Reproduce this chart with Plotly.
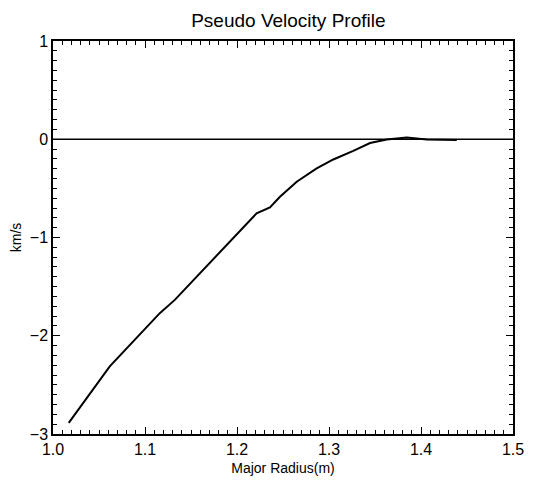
import plotly.graph_objects as go

radius = [1.0171, 1.0617, 1.1161, 1.1324, 1.2213, 1.2358, 1.2467, 1.2649, 1.2866,
          1.3047, 1.3264, 1.3446, 1.3628, 1.3845, 1.4063, 1.4389]
velocity = [-2.886, -2.312, -1.770, -1.635, -0.754, -0.693, -0.586, -0.433, -0.297,
            -0.206, -0.119, -0.038, -0.003, 0.017, -0.003, -0.007]
zero_x = [1.0, 1.5]
zero_y = [0, 0]

FONT = "Liberation Sans, Arial"

fig = go.Figure()
fig.add_trace(go.Scatter(x=zero_x, y=zero_y, mode="lines",
                         line=dict(color="black", width=1.5), showlegend=False))
fig.add_trace(go.Scatter(x=radius, y=velocity, mode="lines",
                         line=dict(color="black", width=2), showlegend=False))

axis_common = dict(showline=True, linecolor="black", linewidth=1.5, mirror="ticks",
                   ticks="inside", ticklen=7, tickwidth=1, tickcolor="black",
                   showgrid=False, zeroline=False, automargin=False,
                   tickfont=dict(family=FONT, size=16, color="black"))

fig.update_xaxes(range=[1.0, 1.5], dtick=0.1, tick0=1.0, tickformat=".1f",
                 minor=dict(ticks="inside", dtick=0.01, ticklen=4, tickcolor="black"),
                 title=dict(text="Major Radius(m)", font=dict(family=FONT, size=14, color="black"),
                            standoff=6),
                 **axis_common)
fig.update_yaxes(range=[-3, 1], dtick=1, tick0=0,
                 minor=dict(ticks="inside", dtick=0.1, ticklen=4, tickcolor="black"),
                 title=dict(text="km/s", font=dict(family=FONT, size=14, color="black"),
                            standoff=6),
                 **axis_common)

# page body adds an 8px offset, so the figure is sized to 525x483
fig.update_layout(
    width=525, height=483,
    margin=dict(l=45, r=20, t=33, b=57),
    paper_bgcolor="white", plot_bgcolor="white",
    title=dict(text="Pseudo Velocity Profile", x=0.534, xanchor="center",
               y=0.975, yanchor="middle", automargin=False,
               font=dict(family=FONT, size=19, color="black")),
)

fig.write_html("out.html")
